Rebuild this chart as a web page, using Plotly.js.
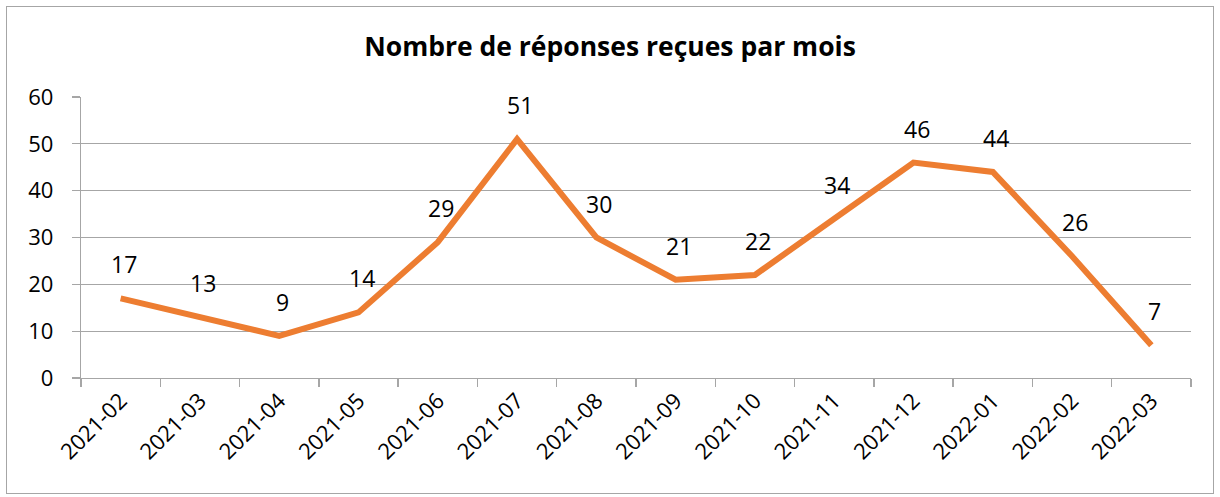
<!DOCTYPE html>
<html><head><meta charset="utf-8">
<script src="https://cdn.plot.ly/plotly-3.0.1.min.js"></script>
<style>
html,body{margin:0;padding:0;background:#fff;}
#wrap{position:relative;width:1220px;height:497px;}
#chart{position:absolute;left:0;top:0;width:1220px;height:497px;}
#frame{position:absolute;left:6px;top:6px;width:1206px;height:486px;border:1.5px solid #A6A6A6;pointer-events:none;}
</style></head>
<body><div id="wrap"><div id="chart"></div><div id="frame"></div></div>
<script>
const months = ["2021-02","2021-03","2021-04","2021-05","2021-06","2021-07","2021-08","2021-09","2021-10","2021-11","2021-12","2022-01","2022-02","2022-03"];
const responses = [17,13,9,14,29,51,30,21,22,34,46,44,26,7];
const titleText = "Nombre de réponses reçues par mois";
const FONT = "'Open Sans', 'Noto Sans', 'DejaVu Sans', sans-serif";

const trace = {
  x: months, y: responses, type: "scatter", mode: "lines",
  line: {color: "#ED7D31", width: 6},
  hoverinfo: "skip"
};
const annotations = months.map((m, i) => ({
  x: m, y: responses[i], xref: "x", yref: "y",
  text: String(responses[i]), showarrow: false,
  yshift: 34, xshift: 3,
  font: {family: FONT, size: 23, color: "#000"}
}));
const layout = {
  width: 1220, height: 497,
  margin: {l: 81, r: 29, t: 97, b: 119},
  paper_bgcolor: "#fff", plot_bgcolor: "#fff",
  showlegend: false,
  title: {text: "<b>" + titleText + "</b>", x: 0.5, xanchor: "center",
          y: 1 - 47/497, yref: "container", yanchor: "middle",
          font: {family: FONT, size: 26.5, color: "#000"}},
  xaxis: {type: "category", range: [-0.5, 13.5], tickson: "boundaries",
          ticks: "outside", ticklen: 8, tickcolor: "#A6A6A6", tickwidth: 1.3,
          showline: true, linecolor: "#A6A6A6", linewidth: 1.3,
          showgrid: false, tickangle: -45,
          tickfont: {family: FONT, size: 22, color: "#000"}, fixedrange: true},
  yaxis: {range: [0, 60], dtick: 10, ticks: "outside", ticklen: 8,
          tickcolor: "#A6A6A6", tickwidth: 1.3,
          showline: true, linecolor: "#A6A6A6", linewidth: 1.3,
          showgrid: true, gridcolor: "#A6A6A6", gridwidth: 1.3,
          zeroline: false, ticklabelstandoff: 14,
          tickfont: {family: FONT, size: 22, color: "#000"}, fixedrange: true},
  annotations: annotations
};
Plotly.newPlot("chart", [trace], layout, {displayModeBar: false, staticPlot: true});
</script></body></html>
